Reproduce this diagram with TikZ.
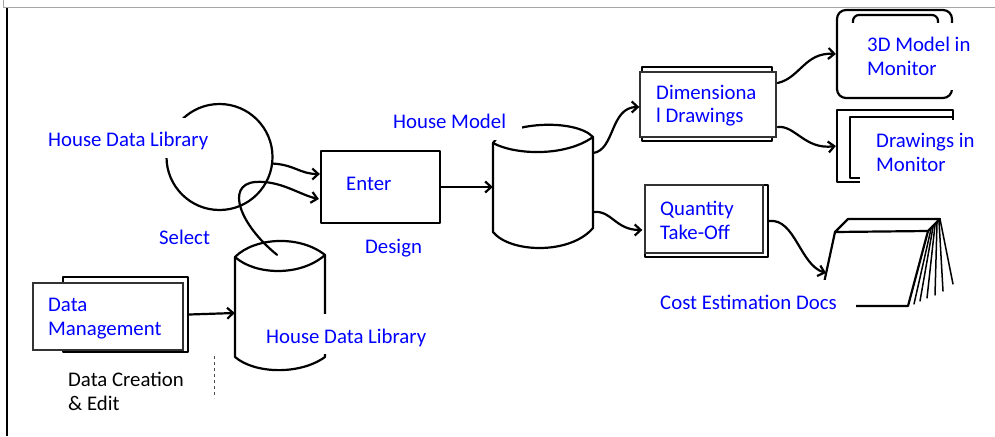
\documentclass[tikz,border=0pt]{standalone}
\usepackage{fontspec}
\setmainfont{Carlito}
\usetikzlibrary{arrows.meta,calc}

% two left-aligned lines whose baseline is that of the first line
\newcommand{\twolines}[2]{\begin{tabular}[t]{@{}l@{}}#1\\#2\end{tabular}}

\begin{document}
\begin{tikzpicture}[x=1pt,y=-1pt,
  sketch/.style={line width=2.2pt, line join=round, line cap=round},
  arr/.style={sketch, -{Straight Barb[length=6pt,width=11pt]}},
  frontbox/.style={draw=black!80, line width=1.3pt, fill=white, inner sep=0pt},
  backbox/.style={sketch, draw, inner sep=0pt},
  holder/.style={inner sep=0pt, draw=none},
  lbl/.style={inner sep=0pt, anchor=base west, font=\fontsize{20.8pt}{24pt}\selectfont},
  blbl/.style={lbl, text=blue},
  cover/.style={fill=white}
]
\useasboundingbox (0,0) rectangle (995,436);

% page frame
\draw[gray!70, line width=0.9pt] (3,0) |- (995,7);
\draw[line width=2.6pt] (7,8) -- (7,436);

% ---- library circle ----
\node[sketch, draw, circle, minimum size=106pt, inner sep=0pt] (lib) at (219.5,157) {};

% ---- Enter / design box ----
\node[backbox, minimum width=119pt, minimum height=72pt] (enter) at (380.5,187) {};

% ---- house model cylinder ----
\node[holder, minimum width=100pt, minimum height=100pt] (hm) at (543,187) {};
\draw[sketch] (493,143) -- (493,232)
  .. controls (510,253) and (570,255) .. (593,228) -- (593,137);
\draw[sketch] (493,143) .. controls (515,155) and (565,157) .. (593,137);
\draw[sketch] (493,143) .. controls (505,122) and (575,118) .. (593,137);

% ---- house data library cylinder ----
\node[holder, minimum width=90pt, minimum height=110pt] (hdl) at (280,313) {};
\draw[sketch] (235,257) -- (235,357)
  .. controls (255,374) and (300,375) .. (325,357) -- (325,255);
\draw[sketch] (235,257) .. controls (255,275) and (300,277) .. (325,255);
\draw[sketch] (235,257) .. controls (255,237) and (300,235) .. (325,255);

% ---- data management ----
\node[backbox, minimum width=125pt, minimum height=75pt] (dmback) at (125.5,314.5) {};
\node[frontbox, minimum width=150pt, minimum height=67pt] (dm) at (108,316.5) {};
\draw[black!70, line width=0.6pt, dash pattern=on 3pt off 3pt] (214,356) -- (214,398);

% ---- dimensional drawings ----
\node[backbox, minimum width=130pt, minimum height=74pt] (dimback) at (707,104) {};
\node[frontbox, minimum width=136pt, minimum height=65pt] (dim) at (708,104.5) {};

% ---- quantity take-off ----
\node[backbox, minimum width=123pt, minimum height=72pt] (qback) at (706.5,221) {};
\node[frontbox, minimum width=118pt, minimum height=68pt] (qty) at (704,219) {};

% ---- monitors ----
\node[backbox, rounded corners=9pt, minimum width=115pt, minimum height=88pt] (mon3d) at (894.5,54) {};
\draw[sketch, rounded corners=6pt] (853,15) rectangle (938,85);
\node[backbox, minimum width=116pt, minimum height=72pt] (mon2d) at (895,146) {};
\draw[sketch] (850,117) rectangle (953,178);

% ---- cost estimation document stack ----
\coordinate (docs-in) at (826,273);
\draw[sketch] (835,232) -- (848,219) -- (940,219) -- (928,231) -- cycle;
\draw[sketch] (835,232) -- (819,306) -- (908,306) -- (928,231);
\foreach \ta/\tb/\ba/\bb in {931/229/914/304, 933/227/920/301, 935/225/927/298,
                             937/223/935/295, 939/221/943/291, 940/219/953/284}
  \draw[sketch, line width=1.5pt] (\ta,\tb) -- (\ba,\bb);

% ---- connectors ----
\draw[arr] (lib.-7) .. controls (295,165) and (300,174) .. ($(enter.west)+(0,-13)$);
\draw[arr] ($(hdl.north)+(-3,-3)$) .. controls (240,225) and (225,185) .. (255,182)
  .. controls (280,180) and (300,195) .. ($(enter.west)+(-1,12)$);
\draw[arr] (enter.east) -- (hm.west);
\draw[arr] (dmback.east) -- (hdl.west);
\draw[arr] ($(hm.east)+(0,-34)$) .. controls (615,150) and (610,107) .. ($(dim.west)+(0,2.5)$);
\draw[arr] ($(hm.east)+(0,25)$) .. controls (612,210) and (615,230) .. ($(qty.west)+(-2,11)$);
\draw[arr] ($(dim.east)+(1,-21.5)$) .. controls (800,78) and (805,52) .. (mon3d.west);
\draw[arr] ($(dim.east)+(1,22.5)$) .. controls (795,125) and (805,150) .. (mon2d.west);
\draw[arr] (qback.east) .. controls (795,218) and (800,265) .. (docs-in);

% ---- text panels laid over the sketch ----
\fill[cover] (42,118) rectangle (200,158);
\fill[cover] (385,103) rectangle (522,140);
\fill[cover] (250,314) rectangle (432,354);
\fill[cover] (655,280) rectangle (856,322);
\fill[cover] (851,23) rectangle (990,90);
\fill[cover] (860,120) rectangle (990,186);

% ---- labels ----
\node[blbl] (libtxt) at (48,146) {House Data Library};
\node[blbl] (seltxt) at (159,244) {Select};
\node[blbl] (entertxt) at (346,190) {Enter};
\node[blbl] (designtxt) at (365,253) {Design};
\node[blbl] (hmtxt) at (393,128) {House Model};
\node[blbl] (hdltxt) at (266,343) {House Data Library};
\node[blbl] (dmtxt) at (48,311) {\twolines{Data}{Management}};
\node[lbl] (edittxt) at (68,386) {\twolines{Data Creation}{\& Edit}};
\node[blbl] (dimtxt) at (656,99) {\twolines{Dimensiona}{l Drawings}};
\node[blbl] (qtytxt) at (660,215) {\twolines{Quantity}{Take-Off}};
\node[blbl] (docstxt) at (660,309) {Cost Estimation Docs};
\node[blbl] (mon3dtxt) at (867,52) {\twolines{3D Model in}{Monitor}};
\node[blbl] (mon2dtxt) at (876,147) {\twolines{Drawings in}{Monitor}};
\end{tikzpicture}
\end{document}
